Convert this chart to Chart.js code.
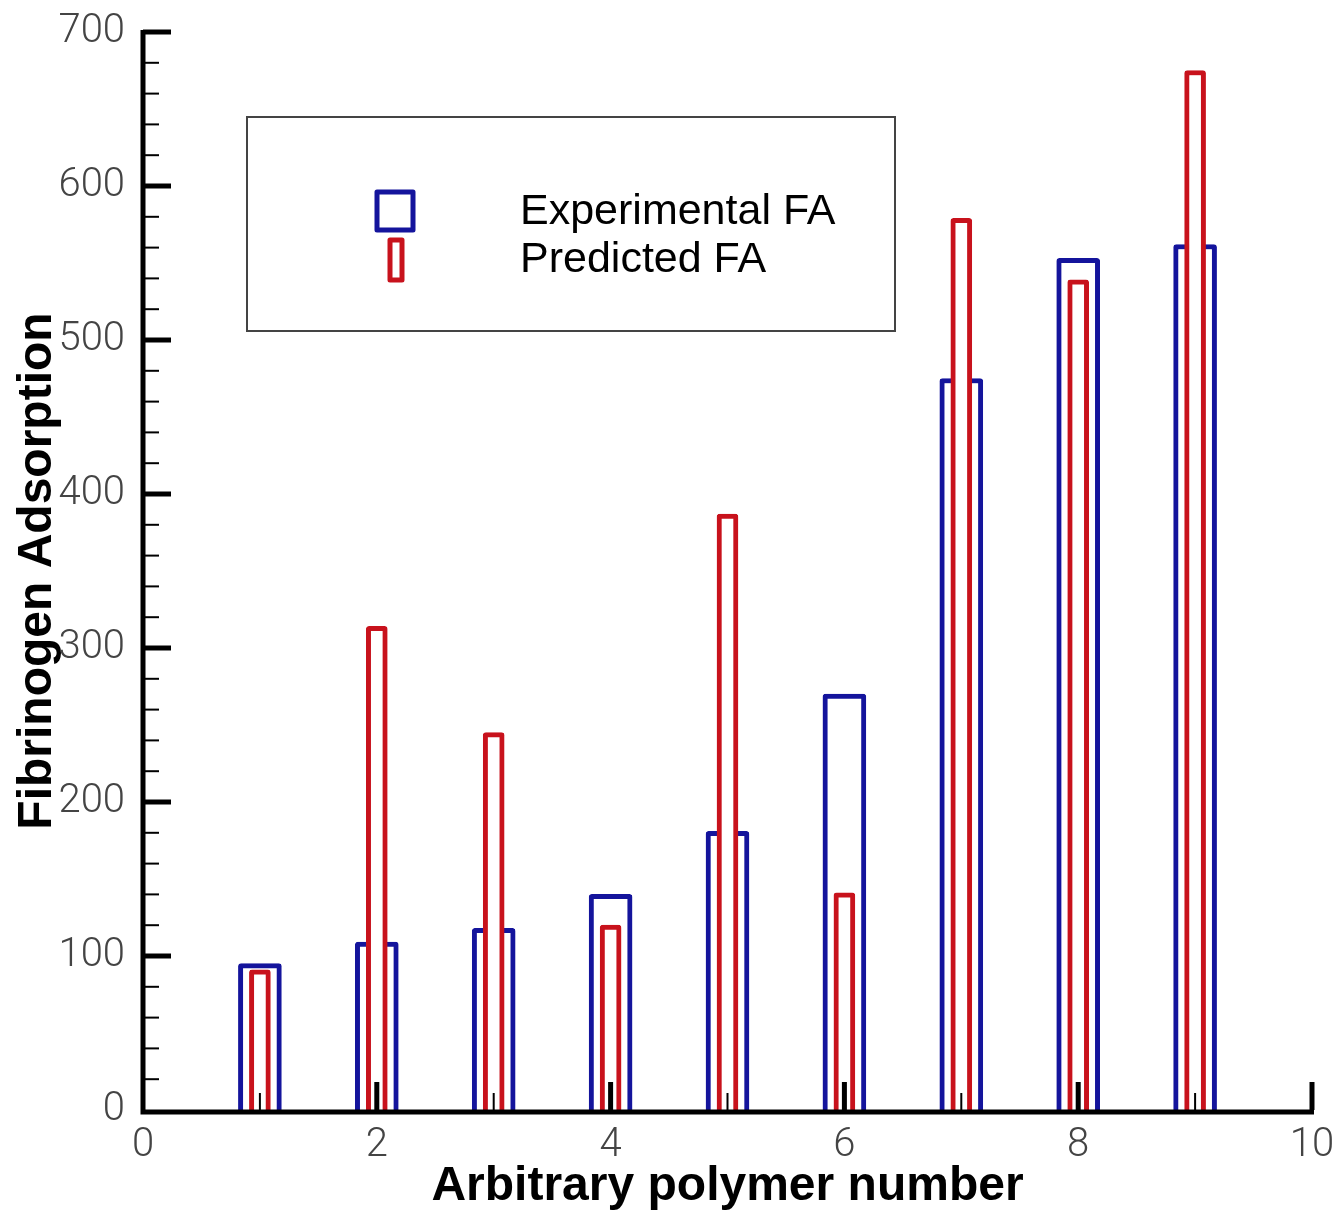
<!DOCTYPE html>
<html>
<head>
<meta charset="utf-8">
<script src="https://cdn.jsdelivr.net/npm/chart.js@4.4.0/dist/chart.umd.min.js"></script>
<style>
  body { margin: 0; background: #fff; }
  #wrap { width: 1337px; height: 1211px; }
</style>
</head>
<body>
<div id="wrap"><canvas id="faChart" width="1337" height="1211"></canvas></div>
<script>
// polymer numbers and adsorption values
const polymers = [1, 2, 3, 4, 5, 6, 7, 8, 9];
const experimentalFA = [95, 109, 118, 140, 181, 270, 475, 553, 562];
const predictedFA = [91, 314, 245, 120, 387, 141, 579, 539, 675];

const xTicks = [0, 2, 4, 6, 8, 10];
const yTicks = [0, 100, 200, 300, 400, 500, 600, 700];

const blue = '#14149c';
const red = '#c8121c';

const toPoints = (vals) => polymers.map((p, i) => ({ x: p, y: vals[i] }));

// inward ticks and heavy axis lines, drawn over the bars like in the figure
const axesPlugin = {
    id: 'axesPlugin',
    afterDatasetsDraw(chart) {
        const ctx = chart.ctx;
        const xs = chart.scales.x;
        const ys = chart.scales.y;
        const area = chart.chartArea;
        ctx.save();
        ctx.strokeStyle = '#000';
        ctx.lineCap = 'butt';

        for (let v = 20; v <= 700; v += 20) {
            const py = ys.getPixelForValue(v);
            const major = v % 100 === 0;
            ctx.lineWidth = major ? 5 : 2;
            ctx.beginPath();
            ctx.moveTo(area.left, py);
            ctx.lineTo(area.left + (major ? 28 : 16), py);
            ctx.stroke();
        }
        for (let v = 1; v <= 10; v++) {
            const px = xs.getPixelForValue(v);
            const major = v % 2 === 0;
            ctx.lineWidth = major ? 5 : 2;
            ctx.beginPath();
            ctx.moveTo(px, area.bottom);
            ctx.lineTo(px, area.bottom - (major ? 28 : 17));
            ctx.stroke();
        }

        ctx.lineWidth = 5;
        ctx.beginPath();
        ctx.moveTo(area.left, ys.getPixelForValue(700) - 2);
        ctx.lineTo(area.left, area.bottom + 2);
        ctx.lineTo(xs.getPixelForValue(10) + 2, area.bottom + 2);
        ctx.stroke();
        ctx.restore();
    }
};

// boxed legend inside the plot, as in the figure
const boxLegend = {
    id: 'boxLegend',
    afterDraw(chart) {
        const ctx = chart.ctx;
        const area = chart.chartArea;
        const left = area.left + 104;
        const top = area.top + 85;
        ctx.save();
        ctx.strokeStyle = '#444';
        ctx.lineWidth = 2;
        ctx.strokeRect(left, top, 648, 214);

        ctx.lineJoin = 'round';
        ctx.lineWidth = 5;
        ctx.strokeStyle = blue;
        ctx.strokeRect(left + 130, top + 75, 36, 38);
        ctx.strokeStyle = red;
        ctx.strokeRect(left + 143, top + 123, 12, 40);

        ctx.fillStyle = '#000';
        ctx.font = '43px "Liberation Sans", Arial, sans-serif';
        ctx.textBaseline = 'alphabetic';
        ctx.textAlign = 'left';
        chart.data.datasets.forEach((ds, i) => {
            ctx.fillText(ds.label, left + 273, top + 107 + i * 48);
        });
        ctx.restore();
    }
};

const zeroPadding = (scale) => {
    scale.paddingTop = 0;
    scale.paddingBottom = 0;
    scale.paddingLeft = 0;
    scale.paddingRight = 0;
};

const tickFont = { family: 'Roboto, "Liberation Sans", Arial, sans-serif', size: 40, weight: 300 };
const titleFont = { family: '"Liberation Sans", Arial, sans-serif', size: 48, weight: 'bold', lineHeight: 1 };

new Chart(document.getElementById('faChart'), {
    type: 'bar',
    data: {
        datasets: [{
            label: 'Experimental FA',
            data: toPoints(experimentalFA),
            borderColor: blue,
            backgroundColor: '#fff',
            borderWidth: 5,
            borderRadius: 3,
            barThickness: 43,
            order: 2
        }, {
            label: 'Predicted FA',
            data: toPoints(predictedFA),
            borderColor: red,
            backgroundColor: '#fff',
            borderWidth: 5,
            borderRadius: 3,
            barThickness: 21,
            order: 1
        }]
    },
    options: {
        responsive: false,
        animation: false,
        layout: { padding: { top: 32, right: 25, left: 0, bottom: 0 } },
        plugins: {
            legend: { display: false },
            tooltip: { enabled: false }
        },
        datasets: { bar: { grouped: false } },
        scales: {
            x: {
                type: 'linear',
                min: 0,
                max: 10,
                offset: false,
                grid: { display: false, drawTicks: false, offset: false },
                border: { display: false },
                afterBuildTicks: (scale) => { scale.ticks = xTicks.map(v => ({ value: v })); },
                afterFit: (scale) => { scale.height = 101; zeroPadding(scale); },
                ticks: {
                    autoSkip: false,
                    maxRotation: 0,
                    padding: 12,
                    color: '#444',
                    font: tickFont
                },
                title: {
                    display: true,
                    text: 'Arbitrary polymer number',
                    color: '#000',
                    padding: 0,
                    font: titleFont
                }
            },
            y: {
                min: 0,
                max: 700,
                grid: { display: false, drawTicks: false },
                border: { display: false },
                afterBuildTicks: (scale) => { scale.ticks = yTicks.map(v => ({ value: v })); },
                afterFit: (scale) => { scale.width = 143; zeroPadding(scale); },
                ticks: {
                    autoSkip: false,
                    padding: 18,
                    color: '#444',
                    font: tickFont
                },
                title: {
                    display: true,
                    text: 'Fibrinogen Adsorption',
                    color: '#000',
                    padding: { top: 14, bottom: 0 },
                    font: titleFont
                }
            }
        }
    },
    plugins: [axesPlugin, boxLegend]
});
</script>
</body>
</html>
